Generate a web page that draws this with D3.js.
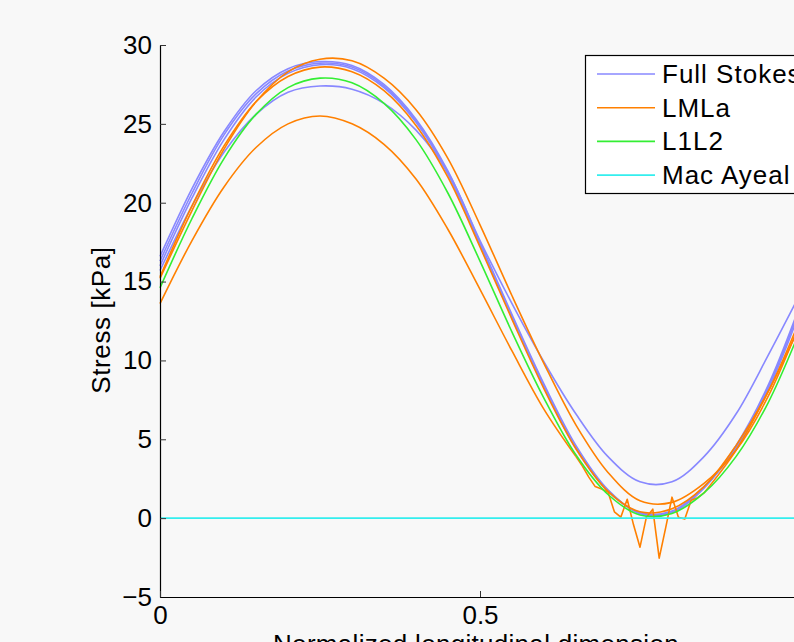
<!DOCTYPE html>
<html>
<head>
<meta charset="utf-8">
<script src="https://cdn.jsdelivr.net/npm/d3@7"></script>
<style>
  body { margin: 0; background: #f8f8f8; }
  text { font-family: "Liberation Sans", Arial, Helvetica, sans-serif; }
</style>
</head>
<body>
<script>
const w = 794;
const h = 642;

// chart data
const xGrid = [0, 0.05, 0.1, 0.15, 0.2, 0.25, 0.3, 0.35, 0.4, 0.45, 0.5,
  0.55, 0.6, 0.65, 0.7, 0.75, 0.8, 0.85, 0.9, 0.95, 1.0];

const fullStokesA = [16.6, 20.9, 24.5, 27.1, 28.5, 28.95, 28.7, 27.5, 25.3, 22.0, 17.5,
  12.9, 8.5, 4.6, 1.8, 0.3, 0.35, 1.9, 4.6, 8.4, 13.5];
const fullStokesB = [16.3, 20.6, 24.3, 26.9, 28.35, 28.85, 28.6, 27.4, 25.2, 21.9, 17.4,
  12.8, 8.4, 4.5, 1.75, 0.3, 0.4, 1.95, 4.5, 8.25, 13.3];
const fullStokesC = [16.0, 20.3, 24.0, 26.7, 28.2, 28.75, 28.5, 27.3, 25.1, 21.8, 17.3,
  12.7, 8.3, 4.4, 1.7, 0.35, 0.45, 2.0, 4.4, 8.1, 13.1];
const fullStokesD = [15.7, 19.8, 23.2, 25.6, 27.0, 27.4, 27.2, 26.3, 24.6, 21.9, 17.6,
  13.6, 9.9, 6.6, 3.9, 2.3, 2.3, 3.9, 6.6, 10.3, 14.2];

const lmlaA = [15.2, 19.5, 23.4, 26.4, 28.3, 29.1, 29.0, 27.9, 25.9, 22.8, 18.6,
  14.1, 9.8, 5.9, 2.9, 1.1, 1.0, 2.2, 4.3, 7.7, 12.4];
const lmlaC = [15.3, 19.8, 23.6, 26.4, 28.0, 28.6, 28.3, 27.1, 24.9, 21.6, 17.2,
  12.6, 8.2, 4.4, 1.7, 0.4, 0.6, 2.0, 4.6, 8.0, 12.6];
const lmlaBx = [0, 0.05, 0.1, 0.15, 0.2, 0.25, 0.3, 0.35, 0.4, 0.45, 0.5, 0.55, 0.6, 0.65,
  0.66, 0.67, 0.68, 0.69, 0.7, 0.71, 0.72, 0.73, 0.74, 0.75, 0.76, 0.77, 0.78, 0.79,
  0.8, 0.81, 0.82, 0.83, 0.84, 0.85, 0.9, 0.95, 1.0];
const lmlaB = [13.6, 17.6, 21.0, 23.5, 25.0, 25.5, 25.0, 23.7, 21.5, 18.3, 14.5, 10.6, 6.9, 3.9,
  3.3, 2.6, 2.0, 1.85, 1.65, 0.4, 0.06, 1.2, -0.44, -1.84, 0.06, 0.57, -2.54, -0.63,
  1.33, 0.06, -0.06, 1.14, 1.3, 1.6, 4.3, 8.0, 12.2];

const l1l2 = [14.6, 19.0, 22.8, 25.6, 27.3, 27.9, 27.6, 26.3, 24.0, 20.6, 16.3,
  11.8, 7.6, 4.0, 1.5, 0.2, 0.3, 1.6, 3.9, 7.3, 11.9];

const macAyeal = [0, 0, 0, 0, 0, 0, 0, 0, 0, 0, 0, 0, 0, 0, 0, 0, 0, 0, 0, 0, 0];

const legendNames = ["Full Stokes", "LMLa", "L1L2", "Mac Ayeal"];
const legendColors = ["#8888ff", "#ff8000", "#33ee33", "#33eeee"];
const yTicks = [-5, 0, 5, 10, 15, 20, 25, 30];
const xTicks = [0, 0.5];

const svg = d3.select("body").append("svg").attr("width", w).attr("height", h);

svg.append("rect").attr("width", w).attr("height", h).attr("fill", "#f8f8f8");

const xScale = d3.scaleLinear().domain([0, 1]).range([160, 800]);
const yScale = d3.scaleLinear().domain([-5, 30]).range([597, 45]);

function toPoints(xs, ys) {
  return xs.map((x, i) => [x, ys[i]]);
}

const smoothLine = d3.line()
  .x(d => xScale(d[0]))
  .y(d => yScale(d[1]))
  .curve(d3.curveCatmullRom.alpha(0.5));

const straightLine = d3.line()
  .x(d => xScale(d[0]))
  .y(d => yScale(d[1]));

const linesGroup = svg.append("g").attr("class", "lines");

function drawSeries(points, color, lineFn) {
  linesGroup.append("path")
    .attr("d", (lineFn || smoothLine)(points))
    .attr("fill", "none")
    .attr("stroke", color)
    .attr("stroke-width", 1.6)
    .attr("stroke-linejoin", "round");
}

[fullStokesA, fullStokesB, fullStokesC, fullStokesD].forEach(s => drawSeries(toPoints(xGrid, s), legendColors[0]));

drawSeries(toPoints(xGrid, lmlaA), legendColors[1]);
drawSeries(toPoints(xGrid, lmlaC), legendColors[1]);

// noisy LMLa run: smooth flanks, straight segments through the trough
const noisy = toPoints(lmlaBx, lmlaB);
drawSeries(noisy.filter(d => d[0] <= 0.65 + 1e-9), legendColors[1]);
drawSeries(noisy.filter(d => d[0] >= 0.65 - 1e-9 && d[0] <= 0.85 + 1e-9), legendColors[1], straightLine);
drawSeries(noisy.filter(d => d[0] >= 0.85 - 1e-9), legendColors[1]);

drawSeries(toPoints(xGrid, l1l2), legendColors[2]);
drawSeries(toPoints(xGrid, macAyeal), legendColors[3], straightLine);

// axes
const yAxis = d3.axisLeft(yScale).tickValues(yTicks).tickSizeInner(-6).tickSizeOuter(0).tickPadding(8)
  .tickFormat(d => d < 0 ? "\u2212" + Math.abs(d) : d);
const xAxis = d3.axisBottom(xScale).tickValues(xTicks).tickSizeInner(-6).tickSizeOuter(0).tickPadding(9)
  .tickFormat(d => d);

const gy = svg.append("g").attr("transform", "translate(160,0)").call(yAxis);
const gx = svg.append("g").attr("transform", "translate(0,597)").call(xAxis);

[gx, gy].forEach(g => {
  g.selectAll("text").attr("font-size", 26).attr("fill", "#000")
    .style("font-family", "'Liberation Sans', Arial, sans-serif");
  g.select(".domain").attr("stroke", "#000").attr("stroke-width", 1.2);
  g.selectAll(".tick line").attr("stroke", "#333");
});

svg.append("text")
  .attr("transform", "translate(110,320) rotate(-90)")
  .attr("text-anchor", "middle")
  .attr("font-size", 26)
  .attr("letter-spacing", 0.6)
  .text("Stress [kPa]");

svg.append("text")
  .attr("x", 476)
  .attr("y", 653)
  .attr("text-anchor", "middle")
  .attr("font-size", 26)
  .attr("letter-spacing", 0.3)
  .text("Normalized longitudinal dimension");

// legend
const legend = svg.append("g").attr("class", "legend");
legend.append("rect")
  .attr("x", 585.5).attr("y", 55.5)
  .attr("width", 240).attr("height", 138)
  .attr("fill", "#fff").attr("stroke", "#000").attr("stroke-width", 1.2);

legendNames.forEach((name, i) => {
  const yy = 74 + i * 33.7;
  legend.append("line")
    .attr("x1", 597).attr("x2", 655)
    .attr("y1", yy).attr("y2", yy)
    .attr("stroke", legendColors[i]).attr("stroke-width", 1.6);
  legend.append("text")
    .attr("x", 662).attr("y", yy + 9)
    .attr("font-size", 26)
    .attr("letter-spacing", 1)
    .text(name);
});
</script>
</body>
</html>
